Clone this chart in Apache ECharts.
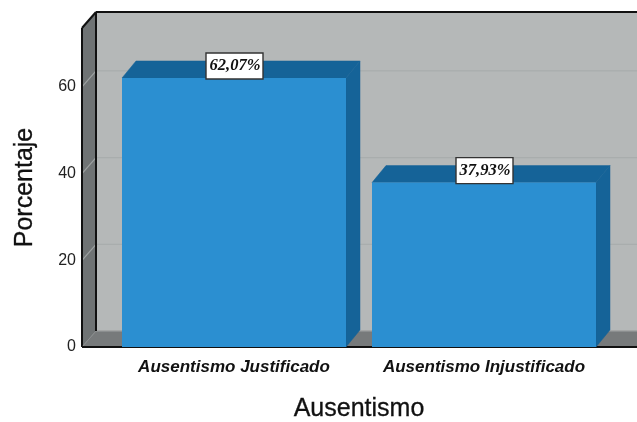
<!DOCTYPE html>
<html>
<head>
<meta charset="utf-8">
<style>html,body{margin:0;padding:0;background:#fff}#c{width:637px;height:422px;filter:blur(0.4px)}</style>
<script src="https://cdn.jsdelivr.net/npm/echarts@6/dist/echarts.min.js"></script>
</head>
<body>
<div id="c"></div>
<script>
const categories = ['Ausentismo Justificado', 'Ausentismo Injustificado'];
const values = [62.07, 37.93];
const valueLabels = ['62,07%', '37,93%'];
const tickValues = [20, 40, 60];
const yMax = 73.6;

const DX = 14, DY = -16, BAR_DY = -17, BAR_WIDTH = 224, SIDE_OFFSET = 27;
const chart = echarts.init(document.getElementById('c'), null, {renderer: 'canvas'});

function poly(points, fill, stroke, lw) {
  return {type: 'polygon', shape: {points}, style: {fill, stroke: stroke || fill, lineWidth: lw === undefined ? 0.5 : lw}};
}
function line(x1, y1, x2, y2, stroke, lw) {
  return {type: 'line', shape: {x1, y1, x2, y2}, style: {stroke, lineWidth: lw}};
}

function renderWalls(params, api) {
  const band = api.size([1, 0])[0];
  const origin = api.coord([0, 0]);
  const xL = origin[0] - band / 2 - SIDE_OFFSET;
  const y0 = origin[1];
  const yT = api.coord([0, yMax])[1];
  const xR = api.getWidth() + 5;
  const kids = [
    poly([[xL + DX, yT + DY], [xR, yT + DY], [xR, y0 + DY], [xL + DX, y0 + DY]], '#b5b8b8'),
    poly([[xL, yT], [xL + DX, yT + DY], [xL + DX, y0 + DY], [xL, y0]], '#6f7374'),
    poly([[xL, y0], [xL + DX, y0 + DY], [xR, y0 + DY], [xR, y0]], '#777a7b')
  ];
  tickValues.forEach(function (t) {
    const y = api.coord([0, t])[1];
    kids.push(line(xL, y, xL + DX, y + DY, '#9da1a1', 1.2));
    kids.push(line(xL + DX, y + DY, xR, y + DY, '#a9adad', 1.2));
  });
  kids.push(line(xL + DX, y0 + DY, xR, y0 + DY, '#a0a3a3', 1));
  kids.push(line(xL + DX, yT + DY, xR, yT + DY, '#111', 2));
  kids.push(line(xL + DX, yT + DY, xL + DX, y0 + DY, '#111', 2));
  kids.push(line(xL, yT, xL + DX, yT + DY, '#111', 2));
  kids.push(line(xL, yT, xL, y0, '#111', 2));
  kids.push(line(xL, y0, xL + DX, y0 + DY, '#8b8e8f', 1));
  kids.push(line(xL, y0, xR, y0, '#111', 2));
  return {type: 'group', children: kids};
}

function renderBars(params, api) {
  const i = api.value(0);
  const p = api.coord([i, api.value(1)]);
  const base = api.coord([i, 0])[1];
  const l = p[0] - BAR_WIDTH / 2, r = p[0] + BAR_WIDTH / 2, t = p[1];
  return {type: 'group', children: [
    poly([[r, t], [r + DX, t + BAR_DY], [r + DX, base + BAR_DY], [r, base]], '#156398'),
    poly([[l, t], [l + DX, t + BAR_DY], [r + DX, t + BAR_DY], [r, t]], '#156398'),
    {type: 'rect', shape: {x: l, y: t, width: BAR_WIDTH, height: base - t}, style: {fill: '#2b8fd1'}},
    {type: 'rect', shape: {x: p[0] - 28, y: t - 25, width: 57, height: 26}, style: {fill: '#fff', stroke: '#333', lineWidth: 1.4}},
    {type: 'text', x: p[0] + 1, y: t - 12, style: {
      text: valueLabels[i], fill: '#111', align: 'center', verticalAlign: 'middle',
      font: 'italic bold 16.5px "Liberation Serif"'
    }}
  ]};
}

chart.setOption({
  animation: false,
  backgroundColor: '#fff',
  grid: {left: 109, top: 28, width: 500, height: 319, containLabel: false, outerBoundsMode: 'none'},
  xAxis: {
    type: 'category', data: categories,
    name: 'Ausentismo', nameLocation: 'middle', nameGap: 50,
    nameTextStyle: {fontFamily: 'Liberation Sans', fontSize: 25, color: '#111', textBorderColor: '#111', textBorderWidth: 0.3},
    axisLine: {show: false}, axisTick: {show: false},
    axisLabel: {interval: 0, margin: 12, fontFamily: 'Liberation Sans', fontSize: 17, fontWeight: 'bold', fontStyle: 'italic', color: '#111'}
  },
  yAxis: {
    type: 'value', min: 0, max: yMax, interval: 20, offset: SIDE_OFFSET,
    name: 'Porcentaje', nameLocation: 'middle', nameGap: 44, nameRotate: 90,
    nameTextStyle: {fontFamily: 'Liberation Sans', fontSize: 25, color: '#111', textBorderColor: '#111', textBorderWidth: 0.3},
    axisLine: {show: false}, axisTick: {show: false}, splitLine: {show: false},
    axisLabel: {showMaxLabel: false, margin: 6, padding: [3, 0, 0, 0], fontFamily: 'Liberation Sans', fontSize: 16, color: '#222'}
  },
  series: [
    {type: 'custom', z: 1, clip: false, silent: true, renderItem: renderWalls, data: [[0, 0]], encode: {x: 0, y: 1}},
    {type: 'custom', z: 2, clip: false, silent: true, renderItem: renderBars,
      data: values.map(function (v, i) { return [i, v]; }), encode: {x: 0, y: 1}}
  ]
});
</script>
</body>
</html>
